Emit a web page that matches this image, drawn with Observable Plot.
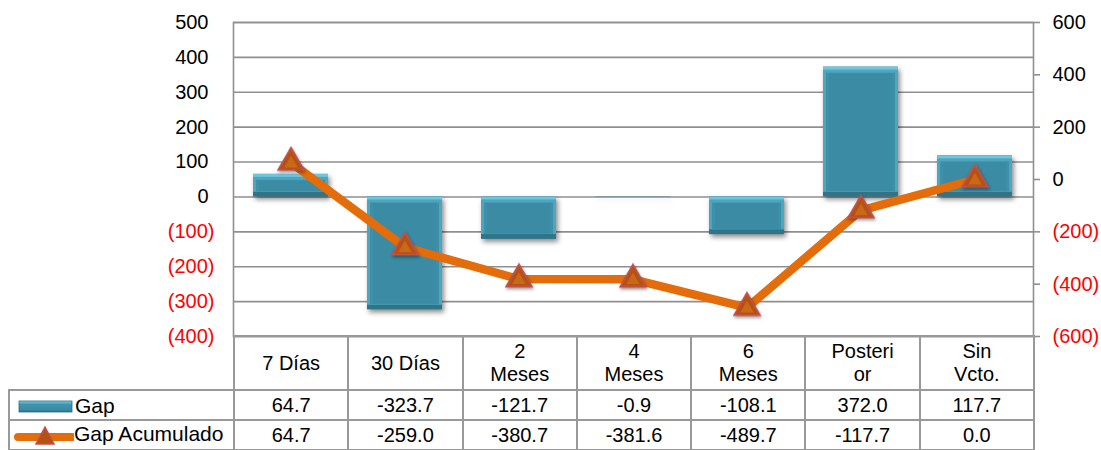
<!DOCTYPE html>
<html>
<head>
<meta charset="utf-8">
<script src="https://cdn.jsdelivr.net/npm/d3@7"></script>
<script src="https://cdn.jsdelivr.net/npm/@observablehq/plot@0.6"></script>
<style>
  html, body { margin: 0; padding: 0; background: #fff; }
  #wrap { position: relative; width: 1101px; height: 450px; overflow: hidden; font-family: "Liberation Sans", Arial, sans-serif; }
  #chart { position: absolute; left: 0; top: 0; }
  #tbl { position: absolute; left: 8px; top: 335px; border-collapse: collapse; table-layout: fixed; width: 1026px;
         font-family: "Liberation Sans", Arial, sans-serif; font-size: 20px; color: #000; }
  #tbl td { border: 2px solid #999; text-align: center; padding: 0; line-height: 23px; vertical-align: middle; }
  #tbl tr.head td { height: 52px; }
  #tbl tr.row td { height: 28px; }
  #tbl td.blank { border-top: none; border-left: none; }
  #tbl td.leg { text-align: left; white-space: nowrap; font-size: 21px; }
  #tbl td.leg svg { vertical-align: middle; }
  .bar-base { filter: drop-shadow(2px 3px 2.5px rgba(0,0,0,0.45)); }
  .tri { filter: drop-shadow(1px 2px 1.5px rgba(0,0,0,0.35)); }
</style>
</head>
<body>
<div id="wrap">
  <div id="chart"></div>
  <table id="tbl"></table>
</div>
<script>
// ---- data ----
const categories = ["7 Días", "30 Días", "2\nMeses", "4\nMeses", "6\nMeses", "Posteri\nor", "Sin\nVcto."];
const gap = [64.7, -323.7, -121.7, -0.9, -108.1, 372.0, 117.7];
const gapAcumulado = [64.7, -259.0, -380.7, -381.6, -489.7, -117.7, 0.0];
const seriesNames = ["Gap", "Gap Acumulado"];
const leftTicks = [-400, -300, -200, -100, 0, 100, 200, 300, 400, 500];
const rightTicks = [-600, -400, -200, 0, 200, 400, 600];

// ---- helpers ----
const leftDomain = [-400, 500];
const rightDomain = [-600, 600];
const k = (leftDomain[1] - leftDomain[0]) / (rightDomain[1] - rightDomain[0]);
const toLeft = v => leftDomain[0] + (v - rightDomain[0]) * k;
const fmtAxis = d => d < 0 ? `(${Math.abs(d)})` : `${d}`;

const rows = categories.map((c, i) => ({cat: c, gap: gap[i], acc: gapAcumulado[i]}));
const big = d => Math.abs(d.gap) > 20;

const grid = "#8f8f8f";
const plot = Plot.plot({
  width: 1101,
  height: 450,
  marginLeft: 233,
  marginRight: 68,
  marginTop: 22,
  marginBottom: 114,
  x: {domain: categories, paddingInner: 0.34, paddingOuter: 0.17, axis: null},
  y: {domain: leftDomain, axis: null},
  style: {fontFamily: "'Liberation Sans', Arial, sans-serif", fontSize: "20px", background: "transparent", overflow: "visible"},
  marks: [
    Plot.ruleY(leftTicks, {stroke: grid, strokeWidth: 1.6}),
    Plot.frame({stroke: grid, strokeWidth: 1.6}),
    Plot.axisY(rightTicks.map(toLeft), {anchor: "right", tickSize: 6, tickFormat: () => "", stroke: grid, strokeWidth: 1.6, label: null}),
    Plot.text(leftTicks.filter(d => d >= 0), {y: d => d, text: fmtAxis, frameAnchor: "left", textAnchor: "end", dx: -25, fill: "#000"}),
    Plot.text(leftTicks.filter(d => d < 0), {y: d => d, text: fmtAxis, frameAnchor: "left", textAnchor: "end", dx: -19, fill: "#ff0000"}),
    Plot.text(rightTicks.filter(d => d >= 0), {y: d => toLeft(d), text: fmtAxis, frameAnchor: "right", textAnchor: "start", dx: 19, fill: "#000"}),
    Plot.text(rightTicks.filter(d => d < 0), {y: d => toLeft(d), text: fmtAxis, frameAnchor: "right", textAnchor: "start", dx: 19, fill: "#ff0000"}),
    // beveled bars
    Plot.barY(rows, {x: "cat", y: "gap", fill: "#2f7489", className: "bar-base"}),
    Plot.barY(rows, {filter: big, x: "cat", y: "gap", fill: "#6cc6dd", insetBottom: 5}),
    Plot.barY(rows, {filter: big, x: "cat", y: "gap", fill: "#4fa5bd", insetTop: 3, insetBottom: 5}),
    Plot.barY(rows, {filter: big, x: "cat", y: "gap", fill: "#3d90a8", insetTop: 6, insetBottom: 5, insetLeft: 3, insetRight: 3}),
    Plot.barY(rows, {filter: big, x: "cat", y: "gap", fill: "#3a8ba3", insetTop: 7, insetBottom: 6, insetLeft: 6, insetRight: 6}),
    // accumulated line on the secondary axis
    Plot.line(rows, {x: "cat", y: d => toLeft(d.acc), stroke: "#e46c0a", strokeWidth: 8.5, strokeLinejoin: "round"}),
    Plot.dot(rows, {x: "cat", y: d => toLeft(d.acc), symbol: "triangle", r: 9.5, fill: "#b5520f", stroke: "#c0504d", strokeWidth: 1.8, className: "tri"}),
    Plot.dot(rows, {x: "cat", y: d => toLeft(d.acc), symbol: "triangle", r: 5, fill: "#c8691a", stroke: "none", dy: 1})
  ]
});
document.getElementById("chart").appendChild(plot);

// ---- data table below the chart ----
const tbl = document.getElementById("tbl");
const colW = 800 / categories.length;
let html = `<colgroup><col style="width:225px">${categories.map(() => `<col style="width:${colW}px">`).join("")}</colgroup>`;
html += `<tr class="head"><td class="blank"></td>${categories.map(c => `<td>${c.split("\n").join("<br>")}</td>`).join("")}</tr>`;
const gapSwatch = `<svg width="58" height="16" style="margin-left:7px"><defs><linearGradient id="lg" x1="0" y1="0" x2="0" y2="1"><stop offset="0" stop-color="#7dd3ea"/><stop offset="0.3" stop-color="#3f95ad"/><stop offset="0.8" stop-color="#3a8ba3"/><stop offset="1" stop-color="#2b6d82"/></linearGradient></defs><rect x="2" y="2" width="53" height="11" fill="url(#lg)" stroke="#2b6d82" stroke-width="0.8"/></svg>`;
const accSwatch = `<svg width="62" height="24" style="margin-left:2px"><line x1="6" y1="13" x2="60" y2="13" stroke="#e46c0a" stroke-width="8" stroke-linecap="round"/><path d="M33,3 L42,20 L24,20 Z" fill="#b5520f" stroke="#c0504d" stroke-width="1.5"/></svg>`;
const vals = [gap, gapAcumulado];
const swatches = [gapSwatch, accSwatch];
seriesNames.forEach((name, si) => {
  html += `<tr class="row"><td class="leg">${swatches[si]}${name}</td>${vals[si].map(v => `<td>${v.toFixed(1)}</td>`).join("")}</tr>`;
});
tbl.innerHTML = html;
</script>
</body>
</html>
